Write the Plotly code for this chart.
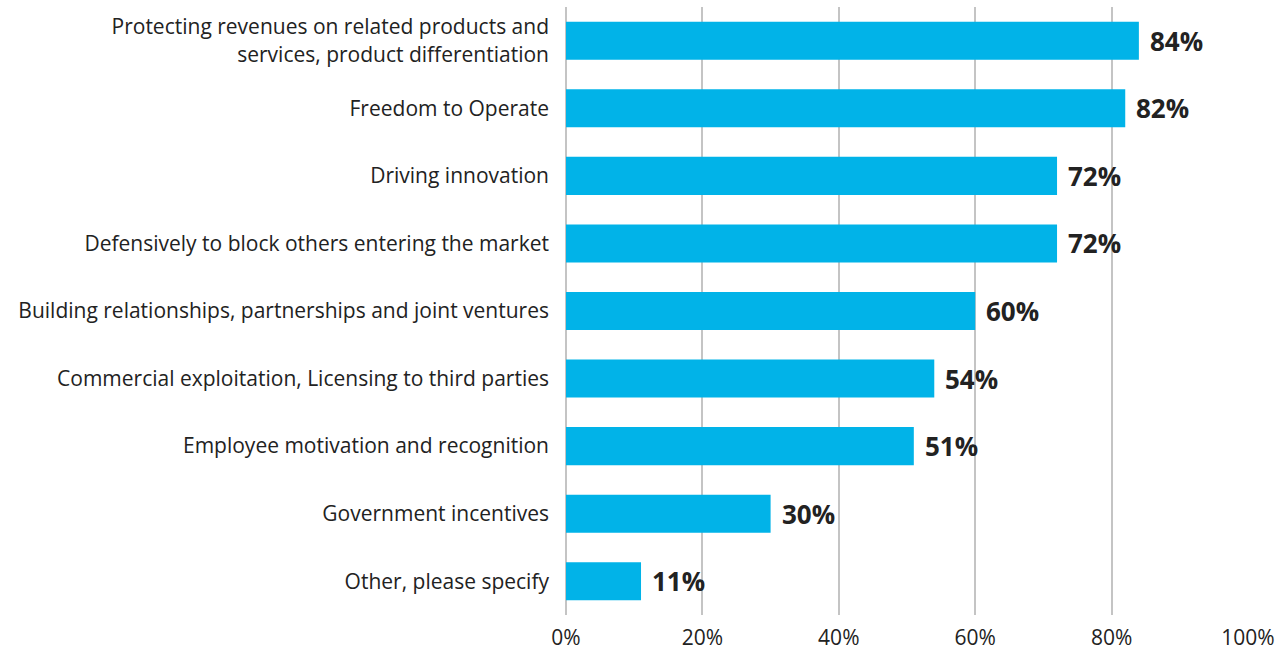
import plotly.graph_objects as go

# Survey results: reasons for holding patents (share of respondents)
categories = [
    "Protecting revenues on related products and<br>services, product differentiation",
    "Freedom to Operate",
    "Driving innovation",
    "Defensively to block others entering the market",
    "Building relationships, partnerships and joint ventures",
    "Commercial exploitation, Licensing to third parties",
    "Employee motivation and recognition",
    "Government incentives",
    "Other, please specify",
]
values = [84, 82, 72, 72, 60, 54, 51, 30, 11]
tick_values = [0, 20, 40, 60, 80, 100]
tick_labels = ["0%", "20%", "40%", "60%", "80%", "100%"]

fig = go.Figure()
fig.add_trace(go.Bar(
    x=values,
    y=categories,
    orientation="h",
    marker=dict(color="#01b3e8", line=dict(width=0)),
    hoverinfo="skip",
))

# Bold percentage labels just past the end of each bar
for cat, val in zip(categories, values):
    fig.add_annotation(
        x=val, y=cat, text=f"<b>{val}%</b>",
        xanchor="left", yanchor="middle", xshift=9,
        showarrow=False,
        font=dict(family="Open Sans", size=26, color="#222222"),
    )

fig.update_layout(
    width=1279, height=650,
    margin=dict(l=566, r=31, t=7, b=35),
    paper_bgcolor="white", plot_bgcolor="white",
    bargap=0.437,
    showlegend=False,
    font=dict(family="Open Sans", size=21, color="#222222"),
)
fig.update_xaxes(
    range=[0, 100],
    tickvals=tick_values, ticktext=tick_labels,
    showgrid=True, gridcolor="#c4c4c4", gridwidth=1.5,
    zeroline=True, zerolinecolor="#c4c4c4", zerolinewidth=1.5,
    showline=False, ticks="", ticklabelstandoff=8,
    automargin=False,
    tickfont=dict(family="Open Sans", size=21, color="#222222"),
)
fig.update_yaxes(
    autorange="reversed",
    showgrid=False, showline=False, ticks="",
    ticklabelstandoff=16, automargin=False,
    tickfont=dict(family="Open Sans", size=21, color="#222222"),
)

fig.write_html("out.html")
